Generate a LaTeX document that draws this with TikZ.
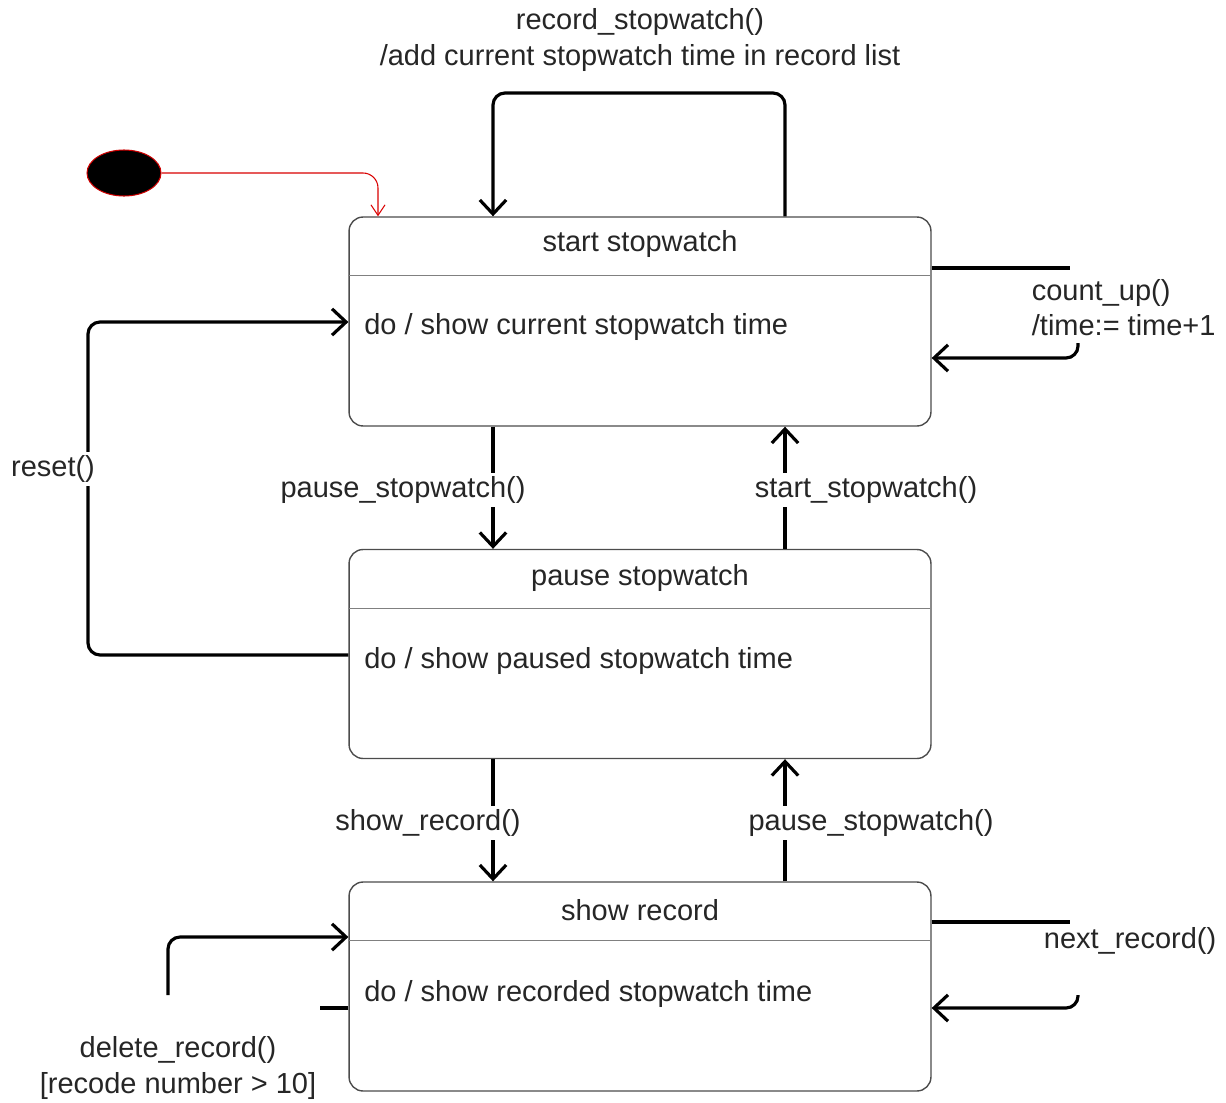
\documentclass[tikz,border=0pt]{standalone}
\usepackage{fontspec}
\setsansfont{Liberation Sans}
\usepackage{tikz}
\usetikzlibrary{arrows.meta, shapes.geometric, positioning}

\begin{document}
\begin{tikzpicture}[x=0.02cm, y=-0.02cm, font=\sffamily\fontsize{16.5}{20}\selectfont ,
stateBox/.style={rectangle, draw=black!70, line width=0.8pt, rounded corners=0.28cm, minimum width=11.64cm, minimum height=4.18cm} ,
stateLine/.style={draw=black!50, line width=0.6pt} ,
stateTitle/.style={inner sep=0pt, text=black!85} ,
stateDo/.style={stateTitle, anchor=west} ,
transLine/.style={draw, line width=1.8pt, rounded corners=0.24cm} ,
trans/.style={transLine, -{Straight Barb[length=8pt, width=15pt]}} ,
transLabel/.style={fill=white, inner sep=2pt, text=black!85} ,
initArrow/.style={draw=red!85!black, line width=0.6pt, rounded corners=0.3cm, -{Straight Barb[length=6pt, width=8pt]}}
]
\useasboundingbox (0,0) rectangle (1226,1102) ;

\node (start-state) at (640,321.5) [stateBox] {} ;
\node (pause-state) at (640,654) [stateBox] {} ;
\node (record-state) at (640,986.5) [stateBox] {} ;

\draw [stateLine] (start-state.north west) ++(0,59) -- ++(582,0) ;
\draw [stateLine] (pause-state.north west) ++(0,60) -- ++(582,0) ;
\draw [stateLine] (record-state.north west) ++(0,59) -- ++(582,0) ;

\node (start-title) at (640,244) [stateTitle] {start stopwatch} ;
\node (start-do) at (364,327) [stateDo] {do / show current stopwatch time} ;
\node (pause-title) at (640,578) [stateTitle] {pause stopwatch} ;
\node (pause-do) at (364,661) [stateDo] {do / show paused stopwatch time} ;
\node (record-title) at (640,910) [stateTitle] {show record} ;
\node (record-do) at (364,994) [stateDo] {do / show recorded stopwatch time} ;

\node (init) at (124,173) [ellipse, fill=black, draw=red!80!black, line width=0.6pt, minimum width=1.48cm, minimum height=0.92cm] {} ;
\draw [initArrow] (init.east) -| (378,0 |- start-state.north) ;

\draw [trans] (785,0 |- start-state.north) |- (493,93) -- (493,0 |- start-state.north) ;
\draw [trans] (pause-state.west |- 0,655) -| (88,322) -- (start-state.west |- 0,322) ;
\draw [trans] (493,0 |- start-state.south) -- (493,0 |- pause-state.north) ;
\draw [trans] (785,0 |- pause-state.north) -- (785,0 |- start-state.south) ;
\draw [trans] (493,0 |- pause-state.south) -- (493,0 |- record-state.north) ;
\draw [trans] (785,0 |- record-state.north) -- (785,0 |- pause-state.south) ;

\coordinate (count-out) at (1070,268) ;
\coordinate (count-in) at (1078,343) ;
\draw [transLine] (start-state.east |- count-out) -- (count-out) ;
\draw [trans] (count-in) |- (start-state.east |- 0,358) ;

\coordinate (next-out) at (1070,922) ;
\coordinate (next-in) at (1078,995) ;
\draw [transLine] (record-state.east |- next-out) -- (next-out) ;
\draw [trans] (next-in) |- (record-state.east |- 0,1008) ;

\coordinate (delete-out) at (320,1008) ;
\coordinate (delete-in) at (168,995) ;
\draw [transLine] (record-state.west |- delete-out) -- (delete-out) ;
\draw [trans] (delete-in) |- (record-state.west |- 0,937) ;

\node (record-label) at (640,40) [transLabel, align=center] {record\_stopwatch()\\/add current stopwatch time in record list} ;
\node (count-label) at (1028,308) [transLabel, anchor=west, align=left] {count\_up()\\/time:= time+1} ;
\node (reset-label) at (53,469) [transLabel] {reset()} ;
\node (pause-label) at (403,490) [transLabel] {pause\_stopwatch()} ;
\node (start-label) at (866,490) [transLabel] {start\_stopwatch()} ;
\node (show-label) at (428,823) [transLabel] {show\_record()} ;
\node (back-label) at (871,823) [transLabel] {pause\_stopwatch()} ;
\node (next-label) at (1040,941) [transLabel, anchor=west] {next\_record()} ;
\node (delete-label) at (178,1068) [transLabel, align=center] {delete\_record()\\{[recode number > 10]}} ;
\end{tikzpicture}
\end{document}
